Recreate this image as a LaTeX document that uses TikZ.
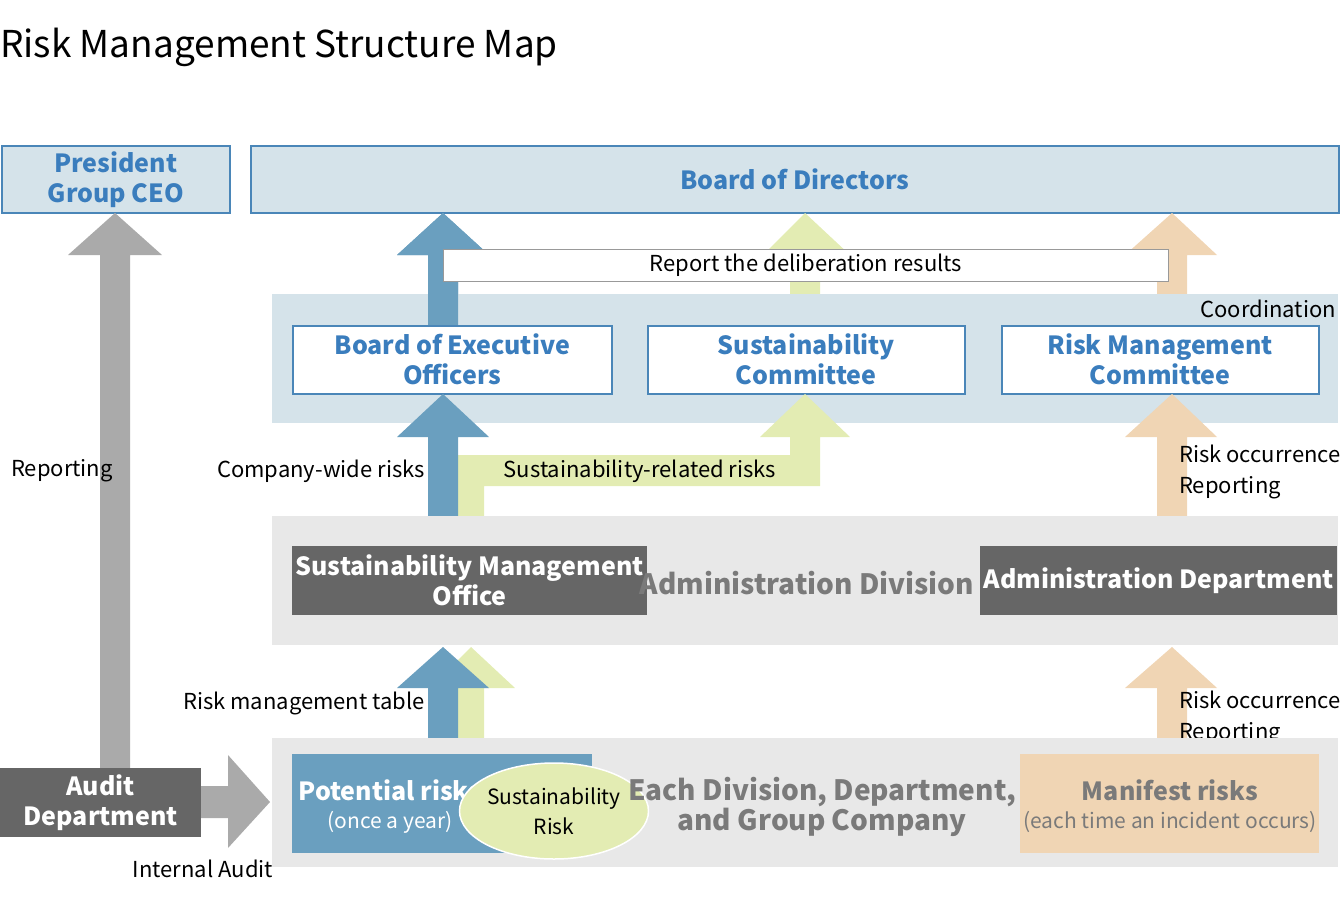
\documentclass[tikz,border=0pt]{standalone}
\usepackage{fontspec}
\setmainfont{Noto Sans CJK JP}
\usetikzlibrary{shapes.geometric}
\definecolor{bluebox}{HTML}{D5E3EA}
\definecolor{blueline}{HTML}{4A86B8}
\definecolor{bluetxt}{HTML}{3A7DBD}
\definecolor{barrow}{HTML}{6A9FBF}
\definecolor{garrow}{HTML}{E3ECB3}
\definecolor{tarrow}{HTML}{F0D5B4}
\definecolor{grayband}{HTML}{E8E8E8}
\definecolor{darkbox}{HTML}{666666}
\definecolor{grayarrow}{HTML}{AAAAAA}
\definecolor{graytxt}{HTML}{7A7A7A}
\tikzset{
 band/.style={draw=none,inner sep=0},
 bluehead/.style={draw=blueline,line width=1.5pt,fill=bluebox,text=bluetxt,font=\fontsize{25}{30}\selectfont\bfseries,align=center},
 whitebox/.style={draw=blueline,line width=1.5pt,fill=white,text=bluetxt,font=\fontsize{25}{30}\selectfont\bfseries,align=center},
 darkb/.style={fill=darkbox,text=white,font=\fontsize{25}{30}\selectfont\bfseries,align=center},
 lbl/.style={font=\fontsize{22}{31}\selectfont,align=left,inner sep=0},
}
\newcommand{\uparr}[8]{\fill[#1] (#2,#4)--(#2,#5)--(#6,#5)--({(#2+#3)/2},#8)--(#7,#5)--(#3,#5)--(#3,#4)--cycle;}
\begin{document}
\begin{tikzpicture}[x=1pt,y=-1pt]
\useasboundingbox (0,0) rectangle (1340,900);
\node[anchor=west,inner sep=0,font=\fontsize{37}{40}\selectfont] (title) at (0,47) {Risk Management Structure Map};
% top boxes
\node[bluehead,minimum width=228,minimum height=67,anchor=north west] (ceo) at (1,145) {President\\Group CEO};
\node[bluehead,minimum width=1088,minimum height=67,anchor=north west] (bod) at (250,145) {Board of Directors};
% gray reporting arrow
\uparr{grayarrow}{100}{130}{768}{255}{68}{162}{213}
% arrows to board
\uparr{barrow}{428}{458}{320}{255}{397}{489}{213}
\uparr{garrow}{790}{820}{295}{255}{763}{850}{213}
\uparr{tarrow}{1157}{1187}{295}{255}{1125}{1217}{213}
% blue band
\fill[bluebox] (272,294) rectangle (1338,423);
\uparr{barrow}{428}{458}{330}{255}{397}{489}{213}
\node[draw=gray!80,line width=1pt,fill=white,minimum width=725,minimum height=32,anchor=north west,inner sep=0,font=\fontsize{22}{26}\selectfont] (rep) at (443,249) {Report the deliberation results};
\node[lbl,anchor=east] (coord) at (1336,309) {Coordination};
\node[whitebox,minimum width=319,minimum height=68,anchor=north west] (beo) at (292,325) {Board of Executive\\Officers};
\node[whitebox,minimum width=317,minimum height=68,anchor=north west] (sc) at (647,325) {Sustainability\\Committee};
\node[whitebox,minimum width=317,minimum height=68,anchor=north west] (rmc) at (1001,325) {Risk Management\\Committee};
% middle arrows
\fill[garrow] (458,516)--(458,455)--(790,455)--(790,437)--(760,437)--(805,394)--(850,437)--(820,437)--(820,486)--(484,486)--(484,516)--cycle;
\uparr{barrow}{428}{458}{516}{437}{397}{489}{394}
\uparr{tarrow}{1157}{1187}{516}{437}{1125}{1217}{394}
\node[lbl] (srr) at (640,471) {Sustainability-related risks};
\node[lbl,anchor=east] (cwr) at (425,471) {Company-wide risks};
\node[lbl,anchor=west] (ror1) at (1179,472) {Risk occurrence\\Reporting};
\node[lbl] (rep1) at (62,471) {Reporting};
% admin band
\fill[grayband] (272,516) rectangle (1338,645);
\node[darkb,minimum width=339,minimum height=69,anchor=north west] (smo) at (292,546) {Sustainability Management\\Office};
\node[darkb,minimum width=339,minimum height=69,anchor=north west] (ad) at (980,546) {Administration Department};
\node[font=\fontsize{28}{30}\selectfont\bfseries,text=graytxt] (adiv) at (807,583) {Administration Division};
% lower arrows
\uparr{garrow}{458}{484}{738}{688}{430}{515}{647}
\uparr{barrow}{428}{458}{738}{688}{397}{489}{647}
\uparr{tarrow}{1157}{1187}{738}{688}{1125}{1217}{647}
\node[lbl,anchor=east] (rmt) at (425,703) {Risk management table};
\node[lbl,anchor=west] (ror2) at (1179,718) {Risk occurrence\\Reporting};
% bottom band
\fill[grayband] (272,738) rectangle (1338,867);
\node[fill=barrow,minimum width=300,minimum height=99,anchor=north west,inner sep=0] (pr) at (292,754) {};
\node[text=white,font=\fontsize{25}{30}\selectfont\bfseries] (prt) at (390,790) {Potential risks};
\node[text=white,font=\fontsize{21}{26}\selectfont] (pry) at (390,822) {(once a year)};
\node[ellipse,fill=garrow,draw=white,line width=1.5pt,minimum width=140,minimum height=96,align=center,inner sep=0,font=\fontsize{21}{30}\selectfont] (sr) at (554,811) {Sustainability\\Risk};
\node[text=graytxt,font=\fontsize{28}{30}\selectfont\bfseries,align=center] (each) at (822,807) {Each Division, Department,\\and Group Company};
\node[fill=tarrow,minimum width=299,minimum height=99,anchor=north west,inner sep=0] (mr) at (1020,754) {};
\node[text=graytxt,font=\fontsize{25}{30}\selectfont\bfseries] (mrt) at (1170,790) {Manifest risks};
\node[text=graytxt,font=\fontsize{21}{26}\selectfont] (mry) at (1170,822) {(each time an incident occurs)};
% audit
\node[darkb,minimum width=201,minimum height=69,anchor=north west] (audit) at (0,768) {Audit\\Department};
\fill[grayarrow] (201,786)--(228,786)--(228,755)--(270,802)--(228,848)--(228,818)--(201,818)--cycle;
\node[lbl] (ia) at (203,869) {Internal Audit};
\end{tikzpicture}
\end{document}
